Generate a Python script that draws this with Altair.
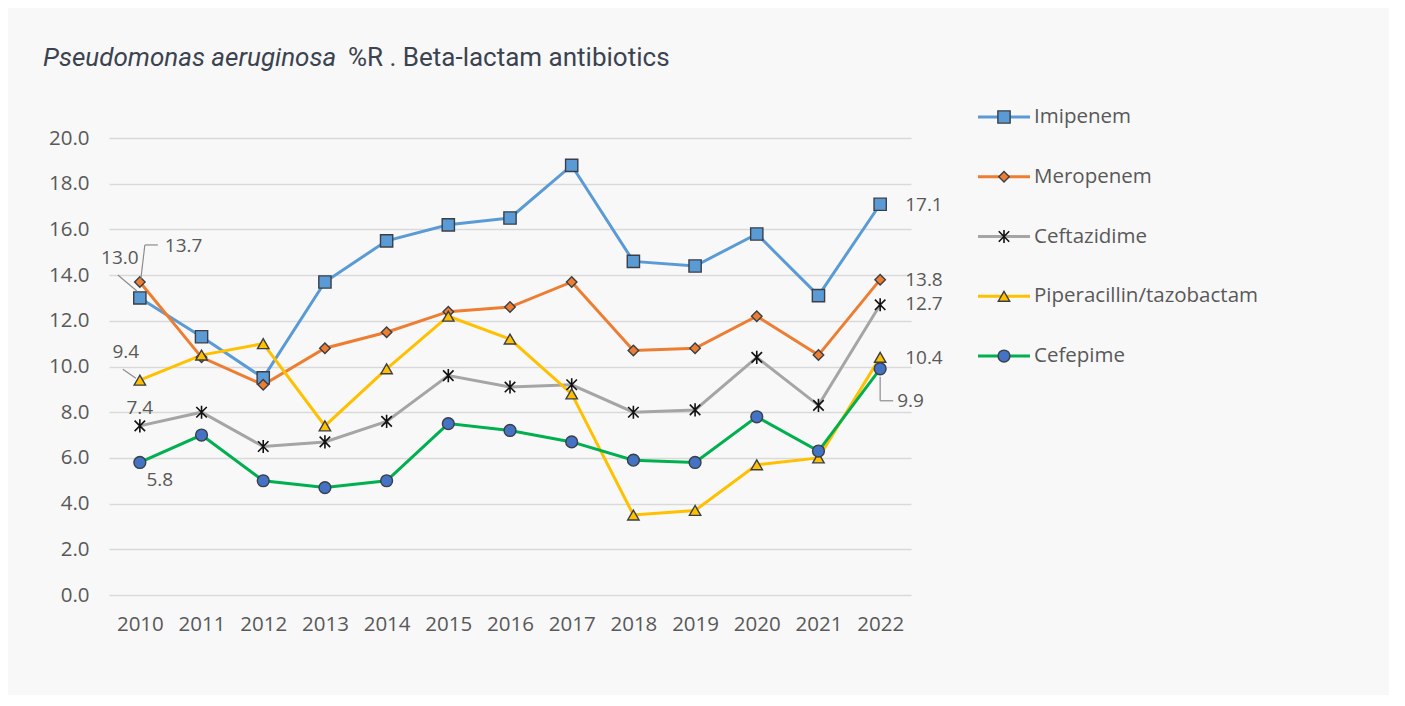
import altair as alt
import pandas as pd

years = [str(y) for y in range(2010, 2023)]
series_names = ["Imipenem", "Meropenem", "Ceftazidime", "Piperacillin/tazobactam", "Cefepime"]
imipenem = [13.0, 11.3, 9.5, 13.7, 15.5, 16.2, 16.5, 18.8, 14.6, 14.4, 15.8, 13.1, 17.1]
meropenem = [13.7, 10.4, 9.2, 10.8, 11.5, 12.4, 12.6, 13.7, 10.7, 10.8, 12.2, 10.5, 13.8]
ceftazidime = [7.4, 8.0, 6.5, 6.7, 7.6, 9.6, 9.1, 9.2, 8.0, 8.1, 10.4, 8.3, 12.7]
piperacillin = [9.4, 10.5, 11.0, 7.4, 9.9, 12.2, 11.2, 8.8, 3.5, 3.7, 5.7, 6.0, 10.4]
cefepime = [5.8, 7.0, 5.0, 4.7, 5.0, 7.5, 7.2, 6.7, 5.9, 5.8, 7.8, 6.3, 9.9]
y_ticks = [0, 2, 4, 6, 8, 10, 12, 14, 16, 18, 20]
title_italic = "Pseudomonas aeruginosa"
title_rest = "%R . Beta-lactam antibiotics"

line_colors = ["#5B9BD5", "#ED7D31", "#A5A5A5", "#FFC000", "#00B050"]
marker_fill = ["#5B9BD5", "#ED7D31", "#000000", "#FFC000", "#4472C4"]
marker_shape = ["square", "diamond", "M-1,-1L1,1M-1,1L1,-1M0,-1.25L0,1.25", "triangle-up", "circle"]
marker_size = [150, 110, 110, 130, 140]

values = [imipenem, meropenem, ceftazidime, piperacillin, cefepime]
rows = []
for s, vals in zip(series_names, values):
    for y, v in zip(years, vals):
        rows.append({"series": s, "year": y, "value": v})
df = pd.DataFrame(rows)

FONT = "Open Sans"
GREY = "#595959"

# label specs: series, year, dx, dy, align
labels = [
    ("Imipenem", "2010", -20, -40, "center"),
    ("Meropenem", "2010", 25, -36, "left"),
    ("Piperacillin/tazobactam", "2010", -14, -28, "center"),
    ("Ceftazidime", "2010", 0, -18, "center"),
    ("Cefepime", "2010", 20, 18, "center"),
    ("Imipenem", "2022", 25, 1, "left"),
    ("Meropenem", "2022", 25, 0, "left"),
    ("Ceftazidime", "2022", 25, -1, "left"),
    ("Piperacillin/tazobactam", "2022", 25, 1, "left"),
    ("Cefepime", "2022", 17, 32, "left"),
]
# leader segments: series, year, (x1off, y1off, x2off, y2off)
leaders = [
    ("Imipenem", "2010", (-22, -23, -3, -7)),
    ("Meropenem", "2010", (1, -3, 5, -37)),
    ("Meropenem", "2010", (5, -37, 18, -37)),
    ("Piperacillin/tazobactam", "2010", (-17, -11, -4, -2)),
    ("Cefepime", "2022", (0, 8, 0, 32)),
    ("Cefepime", "2022", (0, 32, 13, 32)),
]

x_enc = alt.X(
    "year:N", sort=years, scale=alt.Scale(type="point", padding=0.5),
    axis=alt.Axis(title=None, labelAngle=0, ticks=False, domain=False, grid=False,
                  labelPadding=19, labelFontSize=20.5, labelColor=GREY, labelFont=FONT),
)
y_enc = alt.Y(
    "value:Q", scale=alt.Scale(domain=[0, 20]),
    axis=alt.Axis(title=None, values=y_ticks, format=".1f", grid=True, gridColor="#d9d9d9",
                  gridWidth=1.5, ticks=False, domain=False, labelPadding=20,
                  labelFontSize=20.5, labelColor=GREY, labelFont=FONT),
)
color_scale = alt.Scale(domain=series_names, range=line_colors)

base = alt.Chart(df)
layers = [
    base.mark_line(strokeWidth=3).encode(
        x=x_enc, y=y_enc, color=alt.Color("series:N", scale=color_scale, legend=None),
        detail="series:N")
]
for i, s in enumerate(series_names):
    sub = base.transform_filter(alt.datum.series == s)
    if i == 2:
        mk = sub.mark_point(shape=marker_shape[i], size=marker_size[i], filled=False,
                            stroke="#111111", strokeWidth=1.6, opacity=1)
    else:
        mk = sub.mark_point(shape=marker_shape[i], size=marker_size[i], filled=True,
                            fill=marker_fill[i], stroke="#3a3f47", strokeWidth=1.4, opacity=1)
    layers.append(mk.encode(x=x_enc, y=y_enc))

for s, yr, (a, b, c, d) in leaders:
    layers.append(
        base.transform_filter((alt.datum.series == s) & (alt.datum.year == yr))
        .mark_rule(color="#8c8c8c", strokeWidth=1.2, xOffset=a, yOffset=b, x2Offset=c, y2Offset=d)
        .encode(x=x_enc, y=y_enc, x2=alt.X2("year"), y2=alt.Y2("value"))
    )
for s, yr, dx, dy, al in labels:
    layers.append(
        base.transform_filter((alt.datum.series == s) & (alt.datum.year == yr))
        .mark_text(dx=dx, dy=dy, align=al, baseline="middle", fontSize=19, font=FONT, color=GREY)
        .encode(x=x_enc, y=y_enc, text=alt.Text("value:Q", format=".1f"))
    )

tdf = pd.DataFrame({"a": [title_italic], "b": [title_rest]})
layers.append(
    alt.Chart(tdf).mark_text(align="left", baseline="alphabetic", fontSize=26, font="Roboto",
                             fontStyle="italic", color="#3b4350")
    .encode(x=alt.value(-66), y=alt.value(-72), text="a:N")
)
layers.append(
    alt.Chart(tdf).mark_text(align="left", baseline="alphabetic", fontSize=26, font="Roboto",
                             color="#3b4350")
    .encode(x=alt.value(239), y=alt.value(-72), text="b:N")
)

main = alt.layer(*layers).properties(width=802, height=457)

leg_df = pd.DataFrame({"series": series_names, "idx": [0, 1, 2, 3, 4],
                       "x0": [0.0] * 5, "x1": [1.0] * 5, "xm": [0.5] * 5})
ly = alt.Y("idx:Q", scale=alt.Scale(domain=[0.351, 8.0], reverse=True, nice=False, zero=False),
           axis=None)
lx = alt.Scale(domain=[0, 1])
lbase = alt.Chart(leg_df)
leg_layers = [
    lbase.mark_rule(strokeWidth=3).encode(
        x=alt.X("x0:Q", scale=lx, axis=None), x2="x1:Q", y=ly,
        color=alt.Color("series:N", scale=color_scale, legend=None))
]
for i, s in enumerate(series_names):
    sub = lbase.transform_filter(alt.datum.series == s)
    if i == 2:
        mk = sub.mark_point(shape=marker_shape[i], size=marker_size[i], filled=False,
                            stroke="#111111", strokeWidth=1.6, opacity=1)
    else:
        mk = sub.mark_point(shape=marker_shape[i], size=marker_size[i], filled=True,
                            fill=marker_fill[i], stroke="#3a3f47", strokeWidth=1.4, opacity=1)
    leg_layers.append(mk.encode(x=alt.X("xm:Q", scale=lx, axis=None), y=ly))
leg_layers.append(
    lbase.mark_text(align="left", baseline="middle", dx=4, fontSize=20.5, font=FONT, color=GREY)
    .encode(x=alt.X("x1:Q", scale=lx, axis=None), y=ly, text="series:N")
)
legend = alt.layer(*leg_layers).properties(width=52, height=457)

chart = (
    alt.hconcat(main, legend, spacing=33)
    .properties(background="#f8f8f8", padding={"left": 35, "top": 37, "right": 130, "bottom": 60})
    .configure_view(stroke=None)
)
chart.save("out.html", embed_options={"renderer": "svg", "actions": False})
